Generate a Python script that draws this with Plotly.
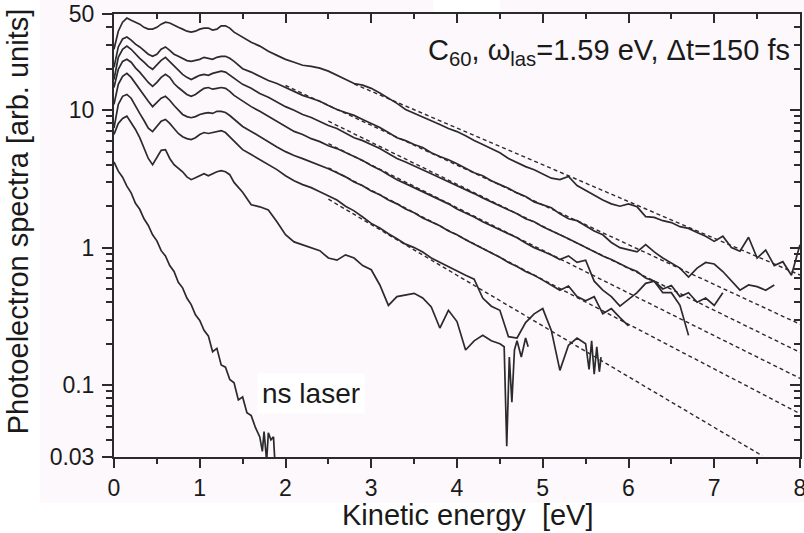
import numpy as np
import plotly.graph_objects as go

# ---------------- data ----------------
X_LOW = np.round(np.arange(0.0, 1.401, 0.05), 2)      # 0.00 .. 1.40
X_HIGH = np.round(np.arange(1.5, 8.001, 0.1), 2)      # 1.5 .. 8.0
X_GRID = np.concatenate([X_LOW, X_HIGH])

A_LOW = [27.7, 37.5, 43.6, 46.7, 45.0, 43.6, 42.2, 40.0, 38.8, 38.8, 40.0, 42.2, 43.6, 43.0, 41.3,
         40.0, 38.8, 37.5, 36.9, 37.5, 38.8, 39.5, 39.5, 38.2, 38.8, 41.0, 41.0, 39.5, 36.9]
A_HIGH = [34.0, 31.2, 29.2, 26.8, 25.0, 23.4, 22.3, 21.2, 20.8, 20.2, 19.2, 17.9, 16.7, 15.6, 15.2,
          14.4, 13.3, 12.2, 11.2, 10.1, 9.5, 8.97, 8.4, 7.86, 7.35, 6.98, 6.5, 6.0, 5.62, 5.25,
          4.9, 4.45, 4.14, 3.88, 3.68, 3.45, 3.2, 3.12, 3.29, 2.83, 2.6, 2.42, 2.22, 2.08, 2.0,
          2.08, 1.98, 1.68, 1.66, 1.57, 1.52, 1.42, 1.38, 1.29, 1.21, 1.11, 1.21, 1.0, 0.94, 1.19,
          0.84, 0.96, 0.74, 0.79, 0.63, 1.05]

B_LOW = [20.5, 28.8, 32.9, 34.0, 32.3, 30.2, 28.8, 27.2, 25.5, 24.6, 25.5, 27.7, 28.8, 27.2, 25.5,
         24.6, 23.8, 22.9, 22.6, 22.9, 23.4, 24.2, 23.8, 23.4, 24.2, 24.6, 24.6, 23.8, 22.6]
B_HIGH = [20.0, 18.9, 17.6, 16.4, 15.6, 14.6, 13.7, 12.8, 12.2, 11.6, 10.8, 10.1, 9.6, 9.15, 8.55,
          8.0, 7.48, 6.87, 6.3, 6.0, 5.62, 5.35, 4.9, 4.6, 4.36, 4.07, 3.8, 3.5, 3.33, 3.06,
          2.87, 2.7, 2.5, 2.35, 2.15, 2.05, 1.95, 1.76, 1.62, 1.57, 1.44, 1.32, 1.24, 1.09, 1.0,
          0.96, 0.93, 1.05, 0.93, 0.84, 0.77, 0.71, 0.61, 0.71, 0.78, 0.76, 0.67, 0.575, 0.49, 0.535,
          0.52, 0.49, 0.535]

C_LOW = [16.7, 24.2, 27.7, 29.2, 27.7, 25.5, 23.8, 22.3, 20.8, 19.8, 21.2, 23.0, 24.2, 22.6, 20.8,
         19.5, 18.2, 17.3, 16.7, 17.3, 17.9, 18.2, 17.9, 18.5, 18.9, 19.2, 18.9, 17.9, 17.0]
C_HIGH = [15.4, 14.4, 13.2, 12.4, 11.4, 10.6, 9.97, 9.3, 8.84, 8.27, 7.73, 7.35, 6.76, 6.3, 6.0,
          5.62, 5.25, 4.83, 4.44, 4.2, 3.95, 3.69, 3.45, 3.22, 3.02, 2.82, 2.63, 2.47, 2.3, 2.15,
          2.0, 1.88, 1.76, 1.62, 1.54, 1.42, 1.32, 1.24, 1.16, 1.08, 1.0, 0.94, 0.87, 0.82, 0.76,
          0.71, 0.67, 0.6, 0.57, 0.5, 0.53, 0.44, 0.47, 0.4, 0.43, 0.38, 0.47]

D_LOW = [14.6, 19.8, 22.6, 23.4, 22.3, 20.3, 18.9, 17.3, 15.9, 14.9, 15.9, 17.3, 18.2, 17.3, 15.6,
         14.6, 13.7, 13.0, 12.6, 13.0, 13.7, 14.4, 14.6, 14.2, 14.4, 14.6, 14.4, 13.7, 12.8]
D_HIGH = [11.6, 10.6, 9.8, 9.0, 8.3, 7.6, 7.0, 6.65, 6.2, 5.9, 5.5, 5.25, 4.9, 4.6, 4.3,
          3.95, 3.69, 3.39, 3.12, 2.92, 2.73, 2.55, 2.38, 2.22, 2.08, 1.91, 1.79, 1.67, 1.54, 1.44,
          1.34, 1.26, 1.18, 1.08, 1.0, 0.94, 0.885, 0.82, 0.87, 0.78, 0.81, 0.57, 0.49, 0.44, 0.375,
          0.42, 0.47, 0.55, 0.57, 0.47, 0.47, 0.38, 0.23]

E_LOW = [11.0, 15.4, 17.6, 18.5, 17.3, 15.6, 14.2, 12.8, 11.6, 10.6, 11.4, 12.2, 12.6, 11.8, 10.8,
         9.97, 9.3, 8.97, 8.8, 8.97, 9.3, 9.46, 9.6, 9.46, 9.8, 9.8, 9.6, 9.14, 8.55]
E_HIGH = [7.6, 7.0, 6.4, 5.9, 5.4, 4.99, 4.67, 4.44, 4.2, 3.95, 3.75, 3.5, 3.27, 3.0, 2.82,
          2.58, 2.42, 2.22, 2.08, 1.91, 1.79, 1.64, 1.54, 1.44, 1.32, 1.24, 1.14, 1.06, 0.98, 0.91,
          0.85, 0.78, 0.73, 0.67, 0.63, 0.58, 0.535, 0.49, 0.525, 0.44, 0.41, 0.44, 0.33, 0.36, 0.31,
          0.27]

F_LOW = [7.4, 11.0, 12.6, 13.0, 12.2, 10.6, 9.46, 8.4, 7.4, 6.98, 7.6, 8.3, 8.55, 8.0, 7.35,
         6.76, 6.4, 6.2, 6.11, 6.3, 6.65, 6.87, 6.76, 6.87, 6.98, 7.1, 6.87, 6.4, 6.0]
F_HIGH = [5.16, 4.75, 4.36, 4.01, 3.69, 3.33, 3.06, 2.87, 2.73, 2.55, 2.38, 2.22, 2.0, 1.85, 1.67,
          1.5, 1.39, 1.26, 1.16, 1.06, 1.0, 0.93, 0.84, 0.78, 0.73, 0.67, 0.63, 0.59, 0.43, 0.375,
          0.35, 0.225, 0.22, 0.285, 0.33, 0.36, 0.25, 0.128, 0.195, 0.22, 0.2]
F_TAIL_X = [5.54, 5.57, 5.60, 5.63, 5.66, 5.68]
F_TAIL_Y = [0.13, 0.21, 0.12, 0.19, 0.125, 0.16]

G_LOW = [6.65, 8.0, 8.7, 9.04, 8.1, 7.23, 6.3, 5.25, 4.45, 4.01, 4.55, 5.1, 5.16, 4.45, 4.01,
         3.8, 3.56, 3.27, 3.12, 3.22, 3.33, 3.45, 3.33, 3.45, 3.56, 3.63, 3.56, 3.39, 2.98]
G_HIGH = [2.53, 2.05, 1.98, 1.88, 1.54, 1.24, 1.1, 1.045, 1.0, 0.95, 0.84, 0.81, 0.885, 0.84, 0.74,
          0.69, 0.535, 0.38, 0.44, 0.45, 0.465, 0.43, 0.37, 0.26, 0.35, 0.29, 0.18, 0.21, 0.23, 0.21,
          0.2]
G_TAIL_X = [4.55, 4.58, 4.61, 4.64, 4.67, 4.70, 4.75, 4.80, 4.83]
G_TAIL_Y = [0.19, 0.036, 0.16, 0.075, 0.18, 0.21, 0.16, 0.22, 0.19]

NS_X = [0.00, 0.05, 0.10, 0.15, 0.20, 0.25, 0.30, 0.35, 0.40, 0.45, 0.50, 0.55, 0.60, 0.65, 0.70,
        0.75, 0.80, 0.85, 0.90, 0.95, 1.00, 1.05, 1.10, 1.15, 1.20, 1.25, 1.30, 1.35, 1.40, 1.45,
        1.50, 1.55, 1.60, 1.65, 1.70, 1.73, 1.75, 1.78, 1.80, 1.83, 1.86, 1.88]
NS_Y = [4.2, 3.6, 3.25, 2.8, 2.5, 2.1, 1.9, 1.62, 1.45, 1.24, 1.12, 0.95, 0.87, 0.74, 0.67,
        0.56, 0.51, 0.43, 0.385, 0.325, 0.295, 0.25, 0.228, 0.175, 0.185, 0.14, 0.135, 0.11, 0.104, 0.078,
        0.082, 0.063, 0.06, 0.049, 0.042, 0.033, 0.046, 0.028, 0.045, 0.04, 0.042, 0.025]

# exponential fits (straight lines in the log plot): start / end energy and value
FIT_X = [[2.8, 8.0], [2.0, 8.0], [2.5, 8.0], [2.5, 8.0], [2.5, 8.0], [2.5, 7.56]]
FIT_Y = [[15.5, 0.632], [15.1, 0.277], [8.3, 0.173], [5.7, 0.112], [3.8, 0.062], [2.25, 0.0306]]

Y_TICKS = [0.03, 0.1, 1, 10, 50]
Y_TICKTEXT = ["0.03", "0.1", "1", "10", "50"]
Y_MINOR = [0.04, 0.05, 0.06, 0.07, 0.08, 0.09, 0.2, 0.3, 0.4, 0.5, 0.6, 0.7, 0.8, 0.9,
           2, 3, 4, 5, 6, 7, 8, 9, 20, 30, 40]

# ---------------- figure ----------------
FONT = "Liberation Sans, Arial, Helvetica, sans-serif"
INK = "#2b2b2b"
BG = "#fcf8fc"

fig = go.Figure()

curves = [(A_LOW + A_HIGH, [], []), (B_LOW + B_HIGH, [], []), (C_LOW + C_HIGH, [], []),
          (D_LOW + D_HIGH, [], []), (E_LOW + E_HIGH, [], []), (F_LOW + F_HIGH, F_TAIL_X, F_TAIL_Y),
          (G_LOW + G_HIGH, G_TAIL_X, G_TAIL_Y)]
for vals, tx, ty in curves:
    xs = list(X_GRID[:len(vals)]) + list(tx)
    ys = list(vals) + list(ty)
    fig.add_trace(go.Scatter(x=xs, y=ys, mode="lines",
                             line=dict(color=INK, width=1.7), hoverinfo="skip", showlegend=False))

fig.add_trace(go.Scatter(x=NS_X, y=NS_Y, mode="lines",
                         line=dict(color=INK, width=1.7), hoverinfo="skip", showlegend=False))

for fx, fy in zip(FIT_X, FIT_Y):
    fig.add_trace(go.Scatter(x=fx, y=fy, mode="lines",
                             line=dict(color=INK, width=1.4, dash="4px,3px"),
                             hoverinfo="skip", showlegend=False))

# invisible trace for the mirror axes
fig.add_trace(go.Scatter(x=[None], y=[None], xaxis="x2", yaxis="y2", showlegend=False,
                         hoverinfo="skip"))

yr = [np.log10(0.03), np.log10(50)]
axis_common = dict(showgrid=False, zeroline=False, showline=True, linecolor=INK, linewidth=2,
                   tickcolor=INK, tickwidth=2, automargin=False)

fig.update_layout(
    width=804, height=533,
    margin=dict(l=114, r=4, t=14, b=76, autoexpand=False),
    paper_bgcolor="white", plot_bgcolor="rgba(0,0,0,0)",
    font=dict(family=FONT, color="#1a1a1a"),
    xaxis=dict(range=[0, 8], tick0=0, dtick=1, ticks="outside", ticklen=9,
               ticklabeloverflow="allow",
               minor=dict(ticks="outside", ticklen=5, tickwidth=2, dtick=0.5, tick0=0, tickcolor=INK),
               tickfont=dict(size=23, family=FONT), **axis_common),
    yaxis=dict(type="log", range=yr, tickvals=Y_TICKS, ticktext=Y_TICKTEXT, ticks="outside",
               ticklen=10, ticklabelstandoff=3,
               minor=dict(ticks="outside", ticklen=6, tickwidth=2, tickvals=Y_MINOR, tickcolor=INK),
               tickfont=dict(size=23, family=FONT), **axis_common),
    xaxis2=dict(range=[0, 8], overlaying="x", side="top", anchor="y", tick0=0, dtick=1,
                ticks="inside", ticklen=9, showticklabels=False,
                minor=dict(ticks="inside", ticklen=5, tickwidth=2, dtick=0.5, tick0=0, tickcolor=INK),
                **axis_common),
    yaxis2=dict(type="log", range=yr, overlaying="y", side="right", anchor="x",
                tickvals=[0.1, 1, 10], ticks="inside", ticklen=10, showticklabels=False,
                minor=dict(ticks="inside", ticklen=6, tickwidth=2, tickvals=Y_MINOR, tickcolor=INK),
                **axis_common),
    shapes=[dict(type="rect", xref="paper", yref="paper", x0=-0.108, x1=1.02, y0=-0.104, y1=1.05,
                 fillcolor=BG, line=dict(width=0), layer="below"),
            dict(type="rect", xref="paper", yref="paper", x0=0.465, x1=0.563, y0=1.005, y1=1.05,
                 fillcolor="white", line=dict(width=0), layer="below")],
    annotations=[
        dict(text="C<sub>60</sub>, ω<sub>las</sub>=1.59 eV, Δt=150 fs", xref="paper", yref="paper",
             x=0.989, y=0.914, xanchor="right", yanchor="middle", showarrow=False,
             font=dict(size=29, family=FONT, color="#1a1a1a")),
        dict(text="ns laser", x=2.295, y=np.log10(0.087), xref="x", yref="y", showarrow=False,
             xanchor="center", yanchor="middle", bgcolor="white", borderpad=4,
             font=dict(size=28, family=FONT, color="#1a1a1a")),
        dict(text="Photoelectron spectra [arb. units]", xref="paper", yref="paper",
             x=-0.14, y=0.532, textangle=-90, xanchor="center", yanchor="middle", showarrow=False,
             font=dict(size=29, family=FONT, color="#1a1a1a")),
        dict(text="Kinetic energy\u00a0\u00a0[eV]", xref="paper", yref="paper",
             x=0.516, y=-0.13, xanchor="center", yanchor="middle", showarrow=False,
             font=dict(size=29, family=FONT, color="#1a1a1a")),
    ],
)

fig.write_html("out.html")
